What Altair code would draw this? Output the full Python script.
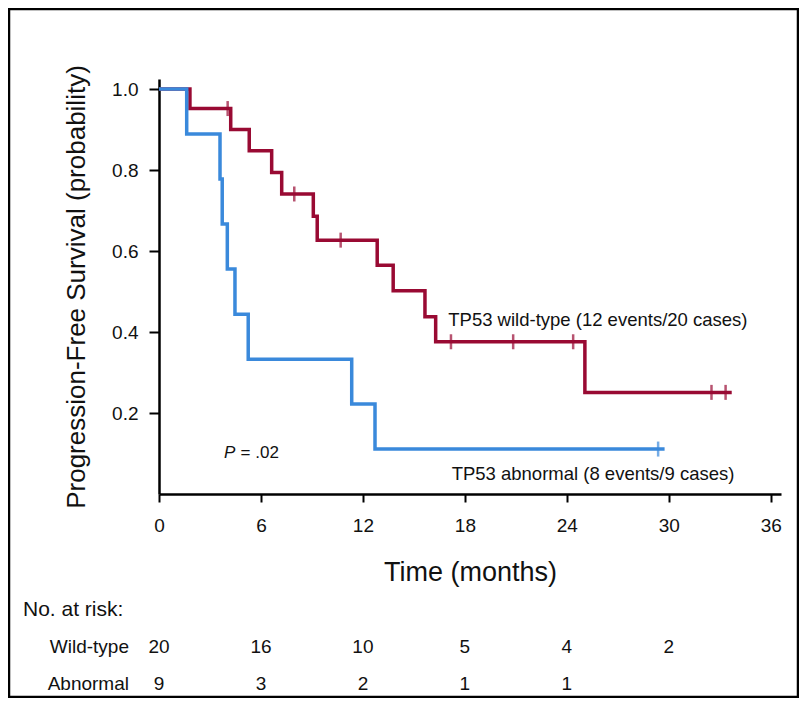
import altair as alt
import pandas as pd

# ---- data ----
wt_times = [0, 1.82, 4.22, 5.31, 6.63, 7.22, 9.08, 9.31, 12.84, 13.78, 15.65, 16.28, 25.06, 33.7]
wt_surv = [1.0, 0.952, 0.900, 0.848, 0.794, 0.741, 0.686, 0.627, 0.565, 0.502, 0.438, 0.376, 0.251, 0.251]
wt_censor_times = [4.04, 7.96, 10.69, 17.18, 20.84, 24.37, 32.51, 33.34]
wt_censor_surv = [0.952, 0.741, 0.627, 0.376, 0.376, 0.376, 0.251, 0.251]

ab_times = [0, 1.63, 3.59, 3.72, 4.02, 4.47, 5.25, 11.34, 12.71, 29.75]
ab_surv = [1.0, 0.889, 0.778, 0.667, 0.556, 0.444, 0.333, 0.222, 0.111, 0.111]
ab_censor_times = [29.37]
ab_censor_surv = [0.111]

risk_times = [0, 6, 12, 18, 24, 30]
risk_wild = [20, 16, 10, 5, 4, 2]
risk_abnormal = [9, 3, 2, 1, 1, None]

x_ticks = [0, 6, 12, 18, 24, 30, 36]
y_ticks = [0.2, 0.4, 0.6, 0.8, 1.0]

FONT = "Liberation Sans"
RED = "#990A33"
BLUE = "#3A89DB"
INK = "#111111"

x_scale = alt.Scale(domain=[0, 36.6], nice=False, zero=False)
y_scale = alt.Scale(domain=[0, 1.025], nice=False, zero=False)

x_axis = alt.Axis(values=x_ticks, title="Time (months)", grid=False, tickSize=8,
                  labelPadding=14, titlePadding=24, titleFontSize=27, format="d",
                  labelFlush=False)
y_axis = alt.Axis(values=y_ticks, title="Progression-Free Survival (probability)", grid=False,
                  tickSize=10, labelPadding=11, titlePadding=22, titleFontSize=26, format=".1f",
                  labelFlush=False)

X = lambda f: alt.X(f, type="quantitative", scale=x_scale, axis=x_axis)
Y = lambda f: alt.Y(f, type="quantitative", scale=y_scale, axis=y_axis)

wt_df = pd.DataFrame({"t": wt_times, "s": wt_surv})
wt_c = pd.DataFrame({"t": wt_censor_times, "s": wt_censor_surv})
ab_df = pd.DataFrame({"t": ab_times, "s": ab_surv})
ab_c = pd.DataFrame({"t": ab_censor_times, "s": ab_censor_surv})

wt_line = alt.Chart(wt_df).mark_line(interpolate="step-after", color=RED, strokeWidth=3.5).encode(
    x=X("t"), y=Y("s"))
wt_ticks = alt.Chart(wt_c).mark_tick(orient="vertical", color=RED, size=15, thickness=2.5).encode(
    x=X("t"), y=Y("s"))
ab_line = alt.Chart(ab_df).mark_line(interpolate="step-after", color=BLUE, strokeWidth=3.5).encode(
    x=X("t"), y=Y("s"))
ab_ticks = alt.Chart(ab_c).mark_tick(orient="vertical", color=BLUE, size=15, thickness=2.5).encode(
    x=X("t"), y=Y("s"))

labels_df = pd.DataFrame({
    "t": [17.02, 17.22],
    "s": [0.416, 0.035],
    "label": ["TP53 wild-type (12 events/20 cases)", "TP53 abnormal (8 events/9 cases)"],
})
labels = alt.Chart(labels_df).mark_text(align="left", baseline="alphabetic", font=FONT,
                                        fontSize=18.5, color=INK).encode(
    x=X("t"), y=Y("s"), text="label:N")

p_df = pd.DataFrame({"t": [3.82], "s": [0.09]})
p_it = alt.Chart(p_df).mark_text(align="left", baseline="alphabetic", font=FONT, fontSize=17,
                                 fontStyle="italic", color=INK).encode(
    x=X("t"), y=Y("s"), text=alt.value("P"))
p_df2 = pd.DataFrame({"t": [4.8], "s": [0.09]})
p_rest = alt.Chart(p_df2).mark_text(align="left", baseline="alphabetic", font=FONT, fontSize=17,
                                    color=INK).encode(
    x=X("t"), y=Y("s"), text=alt.value("= .02"))

# number at risk table
rows = []
for t, n in zip(risk_times, risk_wild):
    rows.append({"t": t, "n": str(n), "row": "wild"})
for t, n in zip(risk_times, risk_abnormal):
    if n is not None:
        rows.append({"t": t, "n": str(n), "row": "abn"})
risk_df = pd.DataFrame(rows)

WILD_Y = 574
ABN_Y = 611

risk_wild_txt = alt.Chart(risk_df).transform_filter(alt.datum.row == "wild").mark_text(
    align="center", baseline="alphabetic", font=FONT, fontSize=19, color=INK).encode(
    x=X("t"), y=alt.value(WILD_Y), text="n:N")
risk_abn_txt = alt.Chart(risk_df).transform_filter(alt.datum.row == "abn").mark_text(
    align="center", baseline="alphabetic", font=FONT, fontSize=19, color=INK).encode(
    x=X("t"), y=alt.value(ABN_Y), text="n:N")

one = pd.DataFrame({"a": [0]})
risk_title = alt.Chart(one).mark_text(align="left", baseline="alphabetic", font=FONT,
                                      fontSize=21, color=INK).encode(
    x=alt.value(-136), y=alt.value(537), text=alt.value("No. at risk:"))
wild_label = alt.Chart(one).mark_text(align="right", baseline="alphabetic", font=FONT,
                                      fontSize=19, color=INK).encode(
    x=alt.value(-30), y=alt.value(WILD_Y), text=alt.value("Wild-type"))
abn_label = alt.Chart(one).mark_text(align="right", baseline="alphabetic", font=FONT,
                                     fontSize=19, color=INK).encode(
    x=alt.value(-30), y=alt.value(ABN_Y), text=alt.value("Abnormal"))

frame = alt.Chart(one).mark_rect(fill="transparent", stroke="black", strokeWidth=2.5).encode(
    x=alt.value(-150), x2=alt.value(639), y=alt.value(-70), y2=alt.value(618))

chart = alt.layer(
    frame, wt_line, wt_ticks, ab_line, ab_ticks, labels, p_it, p_rest,
    risk_wild_txt, risk_abn_txt, risk_title, wild_label, abn_label
).properties(
    width=622, height=415,
    autosize=alt.AutoSizeParams(type="none"),
    padding={"left": 151, "top": 71, "right": 18, "bottom": 204},
    background="white",
).configure_view(stroke=None).configure_axis(
    domainColor="black", domainWidth=2.5, tickColor="black", tickWidth=2,
    labelFont=FONT, labelFontSize=19, labelColor=INK,
    titleFont=FONT, titleColor=INK, titleFontWeight="normal",
)

chart.save("out.html", embed_options={"renderer": "svg", "actions": False})
